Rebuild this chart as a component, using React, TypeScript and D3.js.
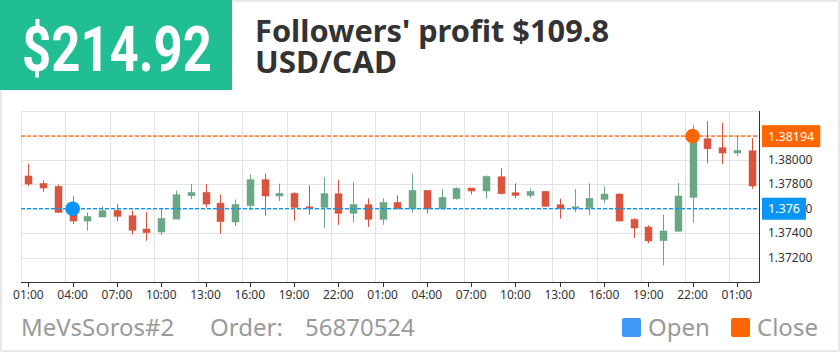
import React, { useEffect, useRef } from "react";
import * as d3 from "d3";

const categories = [
  "01:00","02:00","03:00","04:00","05:00","06:00","07:00","08:00","09:00","10:00",
  "11:00","12:00","13:00","14:00","15:00","16:00","17:00","18:00","19:00","20:00",
  "21:00","22:00","23:00","00:00","01:00","02:00","03:00","04:00","05:00","06:00",
  "07:00","08:00","09:00","10:00","11:00","12:00","13:00","14:00","15:00","16:00",
  "17:00","18:00","19:00","20:00","21:00","22:00","23:00","00:00","01:00","02:00",
];
const openValues = [
  1.37868,1.37807,1.37783,1.37570,1.37499,1.37532,1.37586,1.37543,1.37434,1.37409,
  1.37515,1.37706,1.37734,1.37646,1.37491,1.37625,1.37838,1.37704,1.37726,1.37616,
  1.37611,1.37723,1.37562,1.37633,1.37513,1.37652,1.37600,1.37750,1.37600,1.37682,
  1.37769,1.37745,1.37862,1.37731,1.37709,1.37742,1.37633,1.37603,1.37608,1.37676,
  1.37720,1.37513,1.37450,1.37338,1.37415,1.37693,1.38173,1.38100,1.38056,1.38075,
];
const closeValues = [
  1.37802,1.37769,1.37570,1.37499,1.37537,1.37584,1.37537,1.37423,1.37404,1.37521,
  1.37715,1.37734,1.37638,1.37494,1.37635,1.37838,1.37704,1.37726,1.37611,1.37603,
  1.37723,1.37562,1.37635,1.37513,1.37652,1.37600,1.37750,1.37600,1.37693,1.37767,
  1.37745,1.37865,1.37723,1.37709,1.37742,1.37619,1.37603,1.37616,1.37685,1.37720,
  1.37499,1.37442,1.37336,1.37418,1.37704,1.38194,1.38091,1.38056,1.38078,1.37786,
];
const highValues = [
  1.37969,1.37832,1.37797,1.37701,1.37570,1.37619,1.37638,1.37586,1.37573,1.37597,
  1.37750,1.37802,1.37802,1.37717,1.37676,1.37881,1.37887,1.37805,1.37734,1.37791,
  1.37857,1.37838,1.37818,1.37685,1.37685,1.37709,1.37887,1.37750,1.37758,1.37775,
  1.37769,1.37873,1.37930,1.37807,1.37767,1.37742,1.37682,1.37761,1.37807,1.37783,
  1.37726,1.37521,1.37464,1.37551,1.37811,1.38285,1.38318,1.38304,1.38201,1.38177,
];
const lowValues = [
  1.37786,1.37739,1.37565,1.37474,1.37420,1.37532,1.37499,1.37390,1.37338,1.37384,
  1.37515,1.37679,1.37611,1.37395,1.37458,1.37586,1.37545,1.37663,1.37502,1.37551,
  1.37444,1.37466,1.37488,1.37450,1.37469,1.37598,1.37570,1.37562,1.37598,1.37674,
  1.37717,1.37685,1.37717,1.37687,1.37687,1.37619,1.37518,1.37570,1.37548,1.37644,
  1.37496,1.37360,1.37317,1.37137,1.37415,1.37486,1.37972,1.37964,1.38032,1.37764,
];
const yTickValues = [1.372, 1.374, 1.376, 1.378, 1.38];
const yGridValues = [1.372, 1.374, 1.376, 1.378, 1.38, 1.382, 1.384];
const yDomain = [1.37, 1.384];
const openMarker = { index: 3, price: 1.376, label: "1.376" };
const closeMarker = { index: 45, price: 1.38194, label: "1.38194" };
const profitText = "$214.92";
const titleLine1 = "Followers' profit $109.8";
const titleLine2 = "USD/CAD";
const footerName = "MeVsSoros#2";
const footerOrderLabel = "Order:";
const footerOrderId = "56870524";
const legendItems = ["Open", "Close"];

const UP = "#6aa785";
const DOWN = "#d9533f";
const BLUE = "#0796f7";
const ORANGE = "#ff6600";
const FONT = "'Noto Sans', sans-serif";

export default function App() {
  const ref = useRef<SVGSVGElement | null>(null);

  useEffect(() => {
    const svg = d3.select(ref.current);
    svg.selectAll("*").remove();
    const W = 840, H = 352;
    const left = 21, right = 759, top = 111, bottom = 282;

    svg.append("rect").attr("x", 1).attr("y", 1).attr("width", W - 2).attr("height", H - 2)
      .attr("fill", "#fff").attr("stroke", "#e8e8e8").attr("stroke-width", 2);

    // header
    svg.append("rect").attr("x", 0).attr("y", 0).attr("width", 232).attr("height", 90).attr("fill", "#21bd93");
    svg.append("text").attr("x", 22).attr("y", 71).attr("fill", "#fff")
      .attr("font-family", "Roboto, sans-serif").attr("font-weight", 700).attr("font-size", 63)
      .attr("textLength", 190).attr("lengthAdjust", "spacingAndGlyphs").text(profitText);
    svg.append("text").attr("x", 255).attr("y", 42).attr("fill", "#333")
      .attr("font-family", FONT).attr("font-weight", 700).attr("font-size", 30)
      .attr("textLength", 354).attr("lengthAdjust", "spacingAndGlyphs").text(titleLine1);
    svg.append("text").attr("x", 255).attr("y", 73).attr("fill", "#333")
      .attr("font-family", FONT).attr("font-weight", 700).attr("font-size", 30)
      .attr("textLength", 142).attr("lengthAdjust", "spacingAndGlyphs").text(titleLine2);

    const x = d3.scaleBand<number>().domain(d3.range(categories.length)).range([left, right]).padding(0);
    const y = d3.scaleLinear().domain(yDomain).range([bottom, top]);
    const bw = x.bandwidth();
    const cx = (i: number) => (x(i) as number) + bw / 2;

    const g = svg.append("g");
    // grid
    g.selectAll("line.hg").data(yGridValues).enter().append("line")
      .attr("x1", left).attr("x2", right).attr("y1", (d) => Math.round(y(d)) + 0.5).attr("y2", (d) => Math.round(y(d)) + 0.5)
      .attr("stroke", "#e3e3e3").attr("stroke-width", 1);
    const labeled = d3.range(0, categories.length, 3);
    g.selectAll("line.vg").data(labeled).enter().append("line")
      .attr("x1", (i) => Math.round(x(i) as number) + 0.5).attr("x2", (i) => Math.round(x(i) as number) + 0.5)
      .attr("y1", top).attr("y2", bottom).attr("stroke", "#e3e3e3").attr("stroke-width", 1);

    // candles
    const idx = d3.range(categories.length);
    const cg = g.append("g");
    cg.selectAll("line.wick").data(idx).enter().append("line")
      .attr("x1", (i) => Math.round(cx(i)) + 0.5).attr("x2", (i) => Math.round(cx(i)) + 0.5)
      .attr("y1", (i) => y(highValues[i])).attr("y2", (i) => y(lowValues[i]))
      .attr("stroke", (i) => (closeValues[i] >= openValues[i] ? UP : DOWN)).attr("stroke-width", 1);
    const cw = 7;
    cg.selectAll("rect.body").data(idx).enter().append("rect")
      .attr("x", (i) => Math.round(cx(i)) + 0.5 - cw / 2)
      .attr("y", (i) => y(Math.max(openValues[i], closeValues[i])))
      .attr("width", cw)
      .attr("height", (i) => Math.max(1.5, Math.abs(y(openValues[i]) - y(closeValues[i]))))
      .attr("fill", (i) => (closeValues[i] >= openValues[i] ? UP : DOWN))
      .attr("stroke", (i) => (closeValues[i] >= openValues[i] ? UP : DOWN))
      .attr("stroke-opacity", 0.6).attr("stroke-width", 0.8);

    // axes
    g.append("line").attr("x1", left).attr("x2", right + 0.5).attr("y1", bottom + 0.5).attr("y2", bottom + 0.5)
      .attr("stroke", "#333").attr("stroke-width", 1);
    g.append("line").attr("x1", right + 0.5).attr("x2", right + 0.5).attr("y1", top).attr("y2", bottom + 0.5)
      .attr("stroke", "#333").attr("stroke-width", 1);
    g.selectAll("line.xt").data(labeled).enter().append("line")
      .attr("x1", (i) => Math.round(cx(i)) + 0.5).attr("x2", (i) => Math.round(cx(i)) + 0.5)
      .attr("y1", bottom).attr("y2", bottom + 5).attr("stroke", "#333");
    g.selectAll("text.xl").data(labeled).enter().append("text")
      .attr("x", (i) => cx(i)).attr("y", 299).attr("text-anchor", "middle")
      .attr("font-family", FONT).attr("font-size", 12).attr("fill", "#333").text((i) => categories[i]);
    g.selectAll("text.yl").data(yTickValues).enter().append("text")
      .attr("x", 768).attr("y", (d) => y(d)).attr("dy", "0.35em")
      .attr("font-family", FONT).attr("font-size", 12).attr("fill", "#333").text((d) => d3.format(".5f")(d));

    // markers
    const markers = [
      { m: openMarker, color: BLUE },
      { m: closeMarker, color: ORANGE },
    ];
    markers.forEach(({ m, color }) => {
      g.append("line").attr("x1", left).attr("x2", right).attr("y1", y(m.price)).attr("y2", y(m.price))
        .attr("stroke", color).attr("stroke-width", 1.2).attr("stroke-dasharray", "4,2");
    });
    markers.forEach(({ m, color }) => {
      g.append("circle").attr("cx", cx(m.index)).attr("cy", y(m.price)).attr("r", 7.3).attr("fill", color);
      const lg = g.append("g");
      const rect = lg.append("rect").attr("fill", color);
      const t = lg.append("text").attr("x", 768).attr("y", y(m.price)).attr("dy", "0.36em")
        .attr("font-family", FONT).attr("font-size", 12.5).attr("fill", "#fff").text(m.label);
      const tw = (t.node() as SVGTextElement).getComputedTextLength();
      rect.attr("x", 762).attr("y", y(m.price) - 11).attr("width", tw + 12).attr("height", 22);
    });

    // footer
    const ft = svg.append("g").attr("font-family", FONT).attr("font-size", 24).attr("fill", "#9a9a9a");
    ft.append("text").attr("x", 21).attr("y", 336).text(footerName);
    ft.append("text").attr("x", 210).attr("y", 336).text(footerOrderLabel);
    ft.append("text").attr("x", 305).attr("y", 336).text(footerOrderId);
    const legendColors = ["#3f97f6", ORANGE];
    const legendX = [622, 731];
    legendItems.forEach((name, k) => {
      ft.append("rect").attr("x", legendX[k]).attr("y", 318).attr("width", 19).attr("height", 19).attr("rx", 2)
        .attr("fill", legendColors[k]);
      ft.append("text").attr("x", legendX[k] + 26).attr("y", 336).text(name);
    });
  }, []);

  return (
    <div style={{ position: "absolute", left: 0, top: 0 }}>
      <svg ref={ref} width={840} height={352} style={{ display: "block" }} />
    </div>
  );
}
